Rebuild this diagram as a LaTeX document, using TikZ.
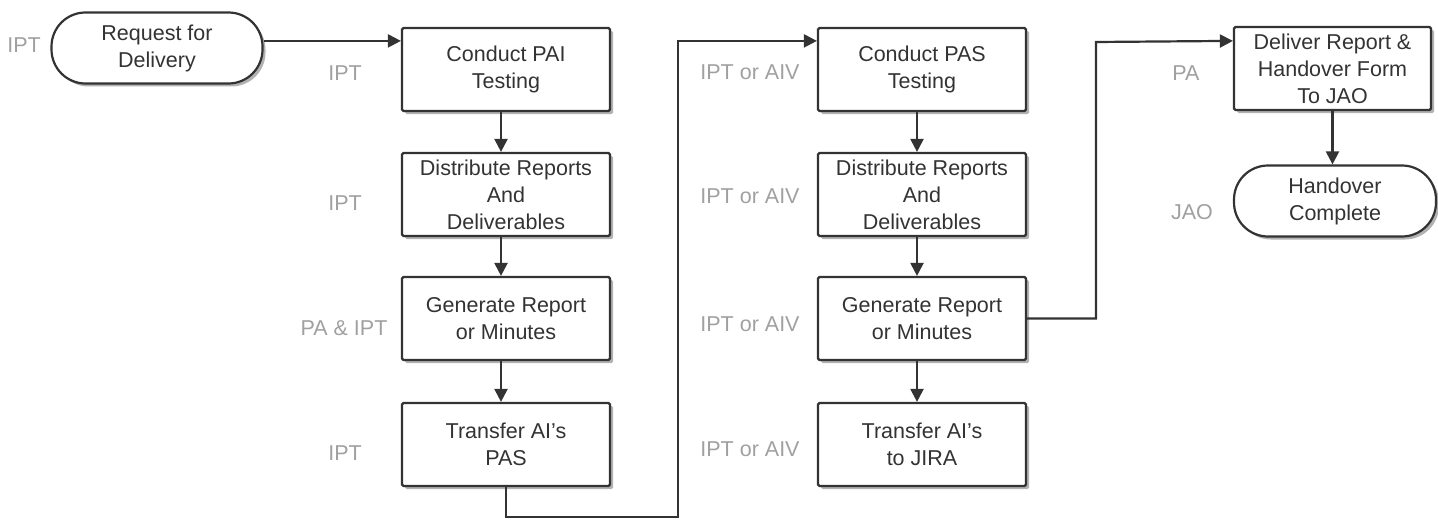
\documentclass[tikz,border=0pt]{standalone}
\usepackage{fontspec}
\setmainfont{Liberation Sans}
\usetikzlibrary{arrows.meta,shadows,calc}
\definecolor{lc}{HTML}{333333}
\definecolor{lab}{HTML}{A0A0A0}
\tikzset{
  base/.style={draw=lc, line width=2.2pt, fill=white, align=center, inner sep=0pt,
    font=\fontsize{21.5}{27}\selectfont, text=black!80,
    drop shadow={shadow xshift=3pt, shadow yshift=-3pt, opacity=0.3, fill=black}},
  proc/.style={base, rounded corners=1.5pt, minimum width=208pt, minimum height=83pt},
  term/.style={base, rounded corners=34pt, minimum height=71pt},
  lbl/.style={text=lab, font=\fontsize{21.5}{27}\selectfont},
  arr/.style={draw=lc, line width=2.2pt, -{Triangle[length=13pt,width=13pt]}},
  ln/.style={draw=lc, line width=2.2pt}
}
\begin{document}
\begin{tikzpicture}[x=1pt,y=-1pt]
\useasboundingbox (0,0) rectangle (1438,527);
% nodes
\node[term, minimum width=211pt] (req) at (157,48) {Request for\\Delivery};
\node[proc] (c1) at (506,69.5) {Conduct PAI\\Testing};
\node[proc] (d1) at (506,194.5) {Distribute Reports\\And\\Deliverables};
\node[proc] (g1) at (506,318.5) {Generate Report\\or Minutes};
\node[proc] (t1) at (506,444.5) {Transfer AI's\\PAS};
\node[proc] (c2) at (922,69.5) {Conduct PAS\\Testing};
\node[proc] (d2) at (922,194.5) {Distribute Reports\\And\\Deliverables};
\node[proc] (g2) at (922,318.5) {Generate Report\\or Minutes};
\node[proc] (t2) at (922,444.5) {Transfer AI's\\to JIRA};
\node[proc, minimum width=197pt] (del) at (1332.5,68.5) {Deliver Report \&\\Handover Form\\To JAO};
\node[term, minimum width=202pt] (hc) at (1335,201) {Handover\\Complete};
% labels
\node[lbl] (l0) at (24,45) {IPT};
\node[lbl] (l1) at (345,73) {IPT};
\node[lbl] (l2) at (345,203) {IPT};
\node[lbl] (l3) at (344,328) {PA \& IPT};
\node[lbl] (l4) at (345,453) {IPT};
\node[lbl] (l5) at (750,72) {IPT or AIV};
\node[lbl] (l6) at (750,196) {IPT or AIV};
\node[lbl] (l7) at (750,324) {IPT or AIV};
\node[lbl] (l8) at (750,449) {IPT or AIV};
\node[lbl] (l9) at (1186,73) {PA};
\node[lbl] (l10) at (1192,212) {JAO};
% coordinates
\coordinate (c1in) at ($(c1.north west)+(0,14)$);
\coordinate (c2in) at ($(c2.north west)+(0,14)$);
\coordinate (delin) at ($(del.north west)+(0,15)$);
\coordinate (k1) at (678,517);
\coordinate (k2) at (1096,42);
% connectors
\draw[arr] (req.east |- c1in) -- (c1in);
\draw[arr] ($(c1.south)+(-5,0)$) -- ($(d1.north)+(-5,0)$);
\draw[arr] ($(d1.south)+(-5,0)$) -- ($(g1.north)+(-5,0)$);
\draw[arr] ($(g1.south)+(-5,0)$) -- ($(t1.north)+(-5,0)$);
\draw[arr] (t1.south) |- (k1) |- (c2in);
\draw[arr] ($(c2.south)+(-5,0)$) -- ($(d2.north)+(-5,0)$);
\draw[arr] ($(d2.south)+(-5,0)$) -- ($(g2.north)+(-5,0)$);
\draw[arr] ($(g2.south)+(-5,0)$) -- ($(t2.north)+(-5,0)$);
\draw[arr] (g2.east) -| (k2) -- (delin);
\draw[arr] (del.south) -- (del.south |- hc.north);
\end{tikzpicture}
\end{document}
